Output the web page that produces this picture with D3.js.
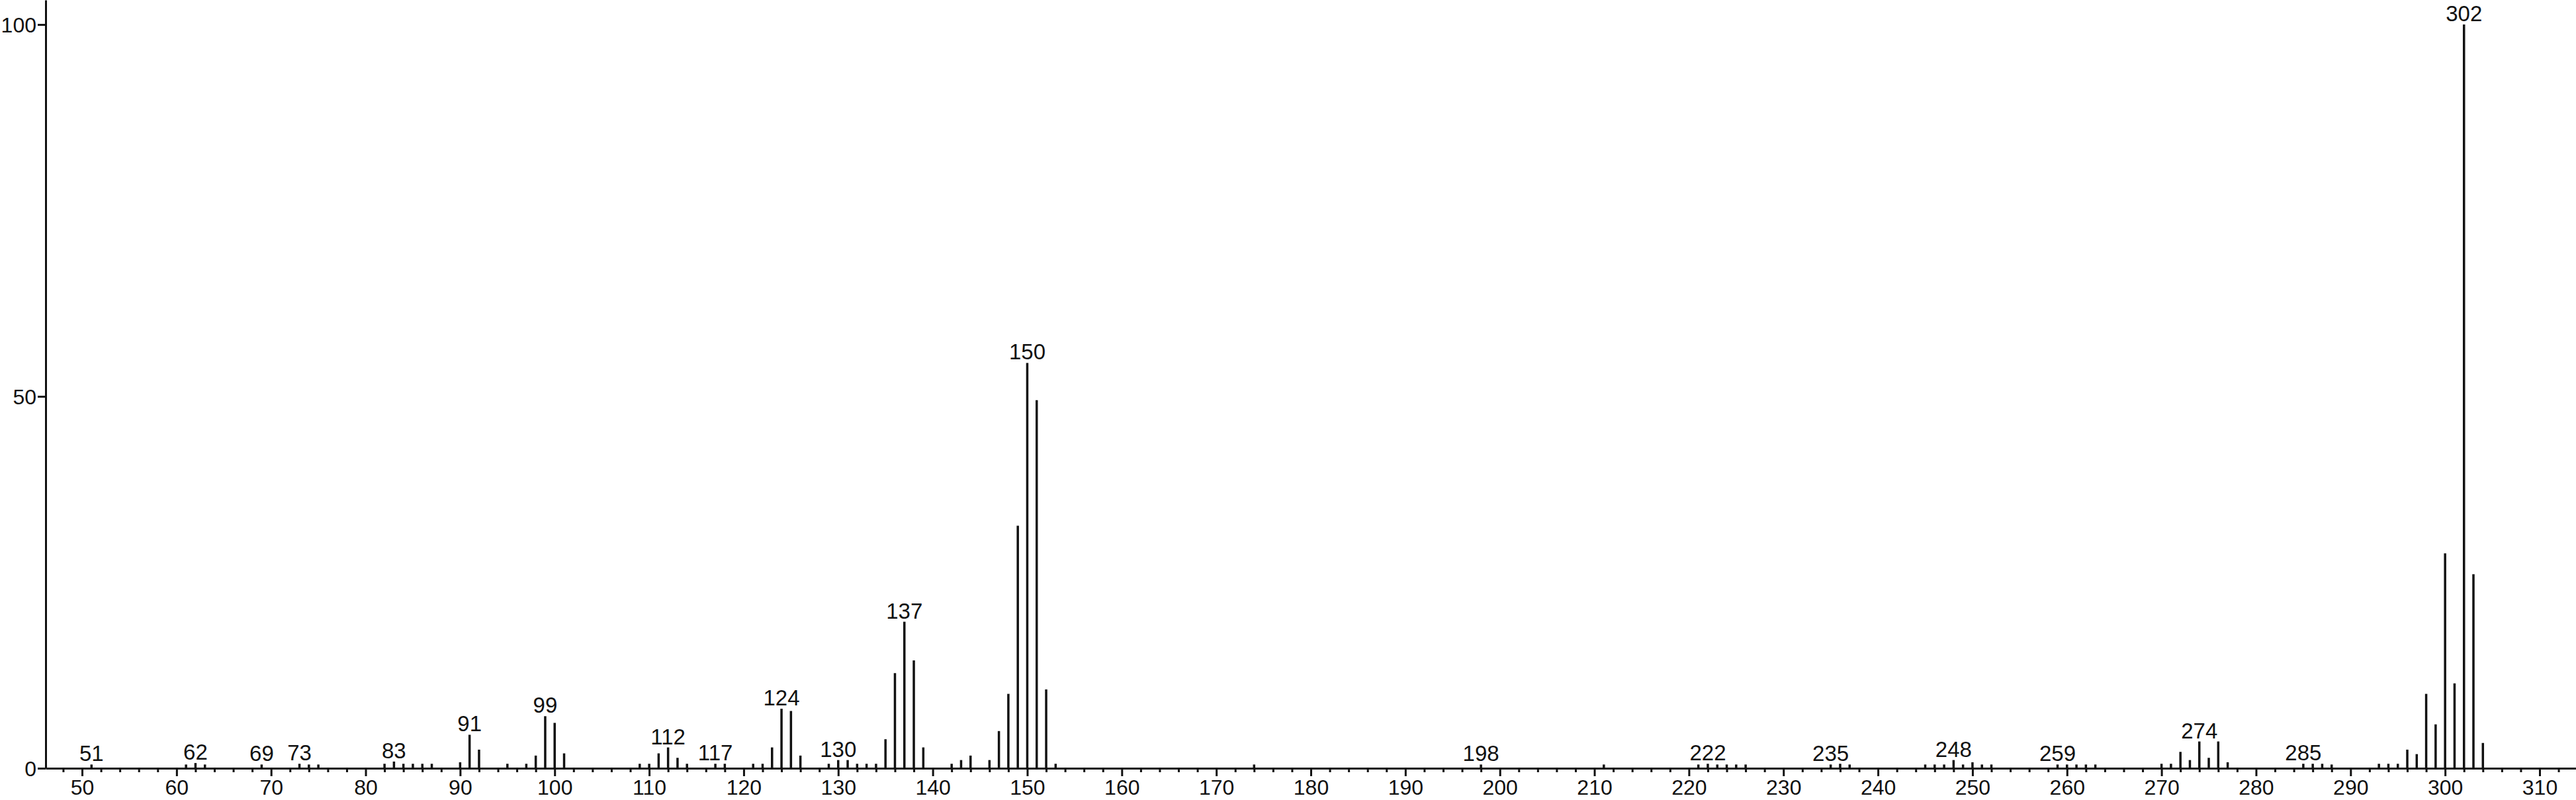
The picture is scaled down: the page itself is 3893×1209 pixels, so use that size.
<script src="https://d3js.org/d3.v7.min.js"></script>

<style>
  body { margin: 0; background: #fff; }
  text { font-family: "Liberation Sans", Arial, sans-serif; }
</style>

<div id="container"></div>

<script>
// peaks: m/z and relative intensity (%)
var mz = [51, 61, 62, 63, 69, 73, 74, 75, 82, 83, 84, 85, 86, 87,
  90, 91, 92, 95, 97, 98, 99, 100, 101, 109, 110, 111, 112, 113, 114,
  117, 118, 121, 122, 123, 124, 125, 126, 129, 130, 131, 132, 133, 134,
  135, 136, 137, 138, 139, 142, 143, 144, 146, 147, 148, 149, 150, 151,
  152, 153, 174, 198, 211, 221, 222, 223, 224, 225, 226, 235, 236, 237,
  245, 246, 247, 248, 249, 250, 251, 252, 259, 260, 261, 262, 263,
  270, 271, 272, 273, 274, 275, 276, 277, 285, 286, 287, 288,
  293, 294, 295, 296, 297, 298, 299, 300, 301, 302, 303, 304];
var intensity = [0.5, 0.5, 0.7, 0.5, 0.5, 0.6, 0.5, 0.5, 0.6, 0.9, 0.6, 0.6, 0.6, 0.6,
  0.8, 4.5, 2.5, 0.6, 0.6, 1.7, 7.0, 6.1, 2.0, 0.6, 0.6, 2.0, 2.8, 1.4, 0.6,
  0.6, 0.6, 0.6, 0.6, 2.8, 8.0, 7.7, 1.7, 0.6, 1.1, 1.1, 0.6, 0.6, 0.6,
  3.9, 12.8, 19.7, 14.5, 2.8, 0.6, 1.1, 1.7, 1.1, 5.0, 10.0, 32.6, 54.5, 49.5,
  10.6, 0.6, 0.5, 0.5, 0.5, 0.5, 0.6, 0.5, 0.5, 0.5, 0.5, 0.5, 0.6, 0.5,
  0.5, 0.5, 0.5, 1.1, 0.5, 0.8, 0.5, 0.5, 0.5, 0.5, 0.5, 0.5, 0.5,
  0.6, 0.6, 2.2, 1.1, 3.6, 1.4, 3.6, 0.8, 0.6, 0.6, 0.6, 0.5,
  0.6, 0.6, 0.6, 2.5, 1.9, 10.0, 5.9, 28.9, 11.4, 100, 26.1, 3.4];

// peaks that carry a m/z label
var labelled = [51, 62, 69, 73, 83, 91, 99, 112, 117, 124, 130, 137, 150,
  198, 222, 235, 248, 259, 274, 285, 302];

var majorTicks = d3.range(50, 311, 10);
var minorTicks = d3.range(48, 313, 2).filter(function (d) { return d % 10 != 0; });
var yTicks = [0, 50, 100];

var W = 3893, H = 1209;
var margin = { top: 0, left: 69, right: 0, bottom: 48 };

var svg = d3.select("#container").append("svg")
  .attr("width", W)
  .attr("height", H);

var peaks = mz.map(function (m, i) { return { mz: m, v: intensity[i] }; });

var xscale = d3.scaleLinear()
  .domain([46.15, 313.85])
  .range([margin.left, W - margin.right]);

var yscale = d3.scaleLinear()
  .domain([0, 103.3])
  .range([H - margin.bottom, margin.top]);

var ink = "#111";

// minor x ticks
svg.append("g")
  .attr("transform", "translate(0," + yscale(0) + ")")
  .call(d3.axisBottom(xscale).tickValues(minorTicks).tickSize(6).tickSizeOuter(0).tickFormat(""))
  .call(function (g) { g.select(".domain").remove(); });

// major x ticks + axis line
var xaxis = svg.append("g")
  .attr("transform", "translate(0," + yscale(0) + ")")
  .call(d3.axisBottom(xscale).tickValues(majorTicks).tickSize(12).tickSizeOuter(0).tickPadding(5));

// y axis
var yaxis = svg.append("g")
  .attr("transform", "translate(" + margin.left + ",0)")
  .call(d3.axisLeft(yscale).tickValues(yTicks).tickSize(12).tickSizeOuter(0).tickPadding(2));

svg.selectAll(".tick line, .domain")
  .attr("stroke", ink)
  .attr("stroke-width", 3);
svg.selectAll(".tick text")
  .attr("fill", ink)
  .style("font-size", "32px");
yaxis.selectAll(".tick text").attr("dy", "0.36em");

// peaks
svg.append("g")
  .selectAll("line")
  .data(peaks)
  .enter()
  .append("line")
    .attr("x1", function (d) { return xscale(d.mz); })
    .attr("x2", function (d) { return xscale(d.mz); })
    .attr("y1", yscale(0))
    .attr("y2", function (d) { return yscale(d.v); })
    .attr("stroke", ink)
    .attr("stroke-width", 3.5);

// peak labels
svg.append("g")
  .selectAll("text")
  .data(peaks.filter(function (d) { return labelled.indexOf(d.mz) >= 0; }))
  .enter()
  .append("text")
    .attr("x", function (d) { return xscale(d.mz); })
    .attr("y", function (d) { return yscale(d.v) - 5; })
    .attr("text-anchor", "middle")
    .attr("fill", ink)
    .style("font-size", "33px")
    .text(function (d) { return d.mz; });
</script>
